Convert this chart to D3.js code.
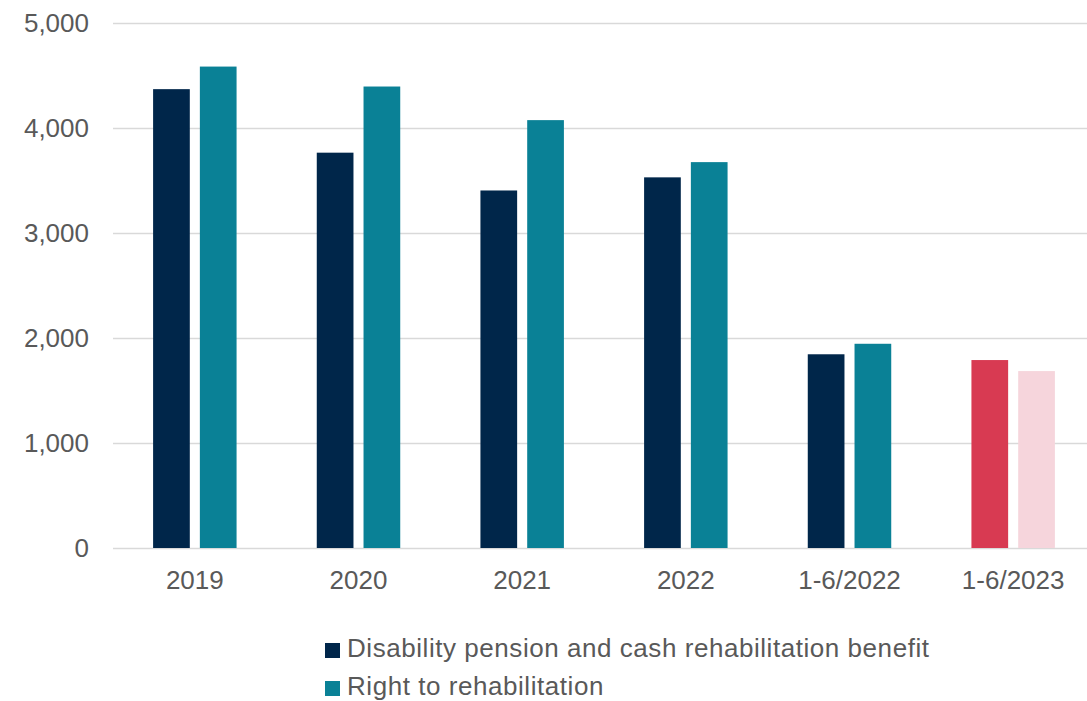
<!DOCTYPE html>
<html>
<head>
<meta charset="utf-8">
<script src="https://cdn.jsdelivr.net/npm/d3@7"></script>
<style>
  body { margin: 0; background: #fff; overflow: hidden; }
  text { font-family: "Liberation Sans", Arial, sans-serif; fill: #595959; }
</style>
</head>
<body>
<div id="chart"></div>
<script>
const categories = ["2019", "2020", "2021", "2022", "1-6/2022", "1-6/2023"];
const seriesNames = ["Disability pension and cash rehabilitation benefit", "Right to rehabilitation"];
const pension = [4370, 3765, 3405, 3530, 1845, 1790];
const rehab = [4585, 4395, 4075, 3675, 1945, 1685];
const yTicks = [0, 1000, 2000, 3000, 4000, 5000];

const seriesColors = ["#00264a", "#0a8196"];
// the last period is drawn in red / pink
const highlightCategory = "1-6/2023";
const highlightColors = ["#d83a52", "#f6d5dc"];

const width = 1087, height = 701;
const margin = { top: 23, right: 0, bottom: 153, left: 113 };

const svg = d3.select("#chart").append("svg")
  .attr("width", width)
  .attr("height", height);

// the plot area runs a little past the right edge of the picture
const x0 = d3.scaleBand()
  .domain(categories)
  .range([margin.left, 1095])
  .paddingInner(0.49)
  .paddingOuter(0.245);

const x1 = d3.scaleBand()
  .domain([0, 1])
  .range([0, x0.bandwidth()])
  .paddingInner(0.215);

const y = d3.scaleLinear()
  .domain([0, 5000])
  .range([height - margin.bottom, margin.top]);

// gridlines
svg.append("g")
  .selectAll("line")
  .data(yTicks)
  .join("line")
  .attr("x1", margin.left)
  .attr("x2", width - margin.right)
  .attr("y1", d => Math.round(y(d)) + 0.5)
  .attr("y2", d => Math.round(y(d)) + 0.5)
  .attr("stroke", "#d9d9d9")
  .attr("stroke-width", 1.5);

// y labels
svg.append("g")
  .selectAll("text")
  .data(yTicks)
  .join("text")
  .attr("x", 89)
  .attr("y", d => y(d))
  .attr("dy", "0.35em")
  .attr("text-anchor", "end")
  .style("font-size", "26px")
  .text(d => d3.format(",")(d));

// bars
const rows = categories.map((c, i) => ({ cat: c, values: [pension[i], rehab[i]] }));

const groups = svg.append("g")
  .selectAll("g")
  .data(rows)
  .join("g")
  .attr("transform", d => `translate(${x0(d.cat)},0)`);

groups.selectAll("rect")
  .data(d => d.values.map((v, k) => ({ cat: d.cat, k: k, v: v })))
  .join("rect")
  .attr("x", d => x1(d.k))
  .attr("width", x1.bandwidth())
  .attr("y", d => y(d.v))
  .attr("height", d => y(0) - y(d.v))
  .attr("fill", d => d.cat === highlightCategory ? highlightColors[d.k] : seriesColors[d.k]);

// x labels
svg.append("g")
  .selectAll("text")
  .data(categories)
  .join("text")
  .attr("x", d => x0(d) + x0.bandwidth() / 2)
  .attr("y", 589)
  .attr("text-anchor", "middle")
  .style("font-size", "26px")
  .text(d => d);

// legend
const legend = svg.append("g")
  .selectAll("g")
  .data(seriesNames)
  .join("g")
  .attr("transform", (d, i) => `translate(325,${643 + i * 38})`);

legend.append("rect")
  .attr("width", 15)
  .attr("height", 15)
  .attr("fill", (d, i) => seriesColors[i]);

legend.append("text")
  .attr("x", 22)
  .attr("y", 14)
  .style("font-size", "26px")
  .style("letter-spacing", "0.55px")
  .text(d => d);
</script>
</body>
</html>
